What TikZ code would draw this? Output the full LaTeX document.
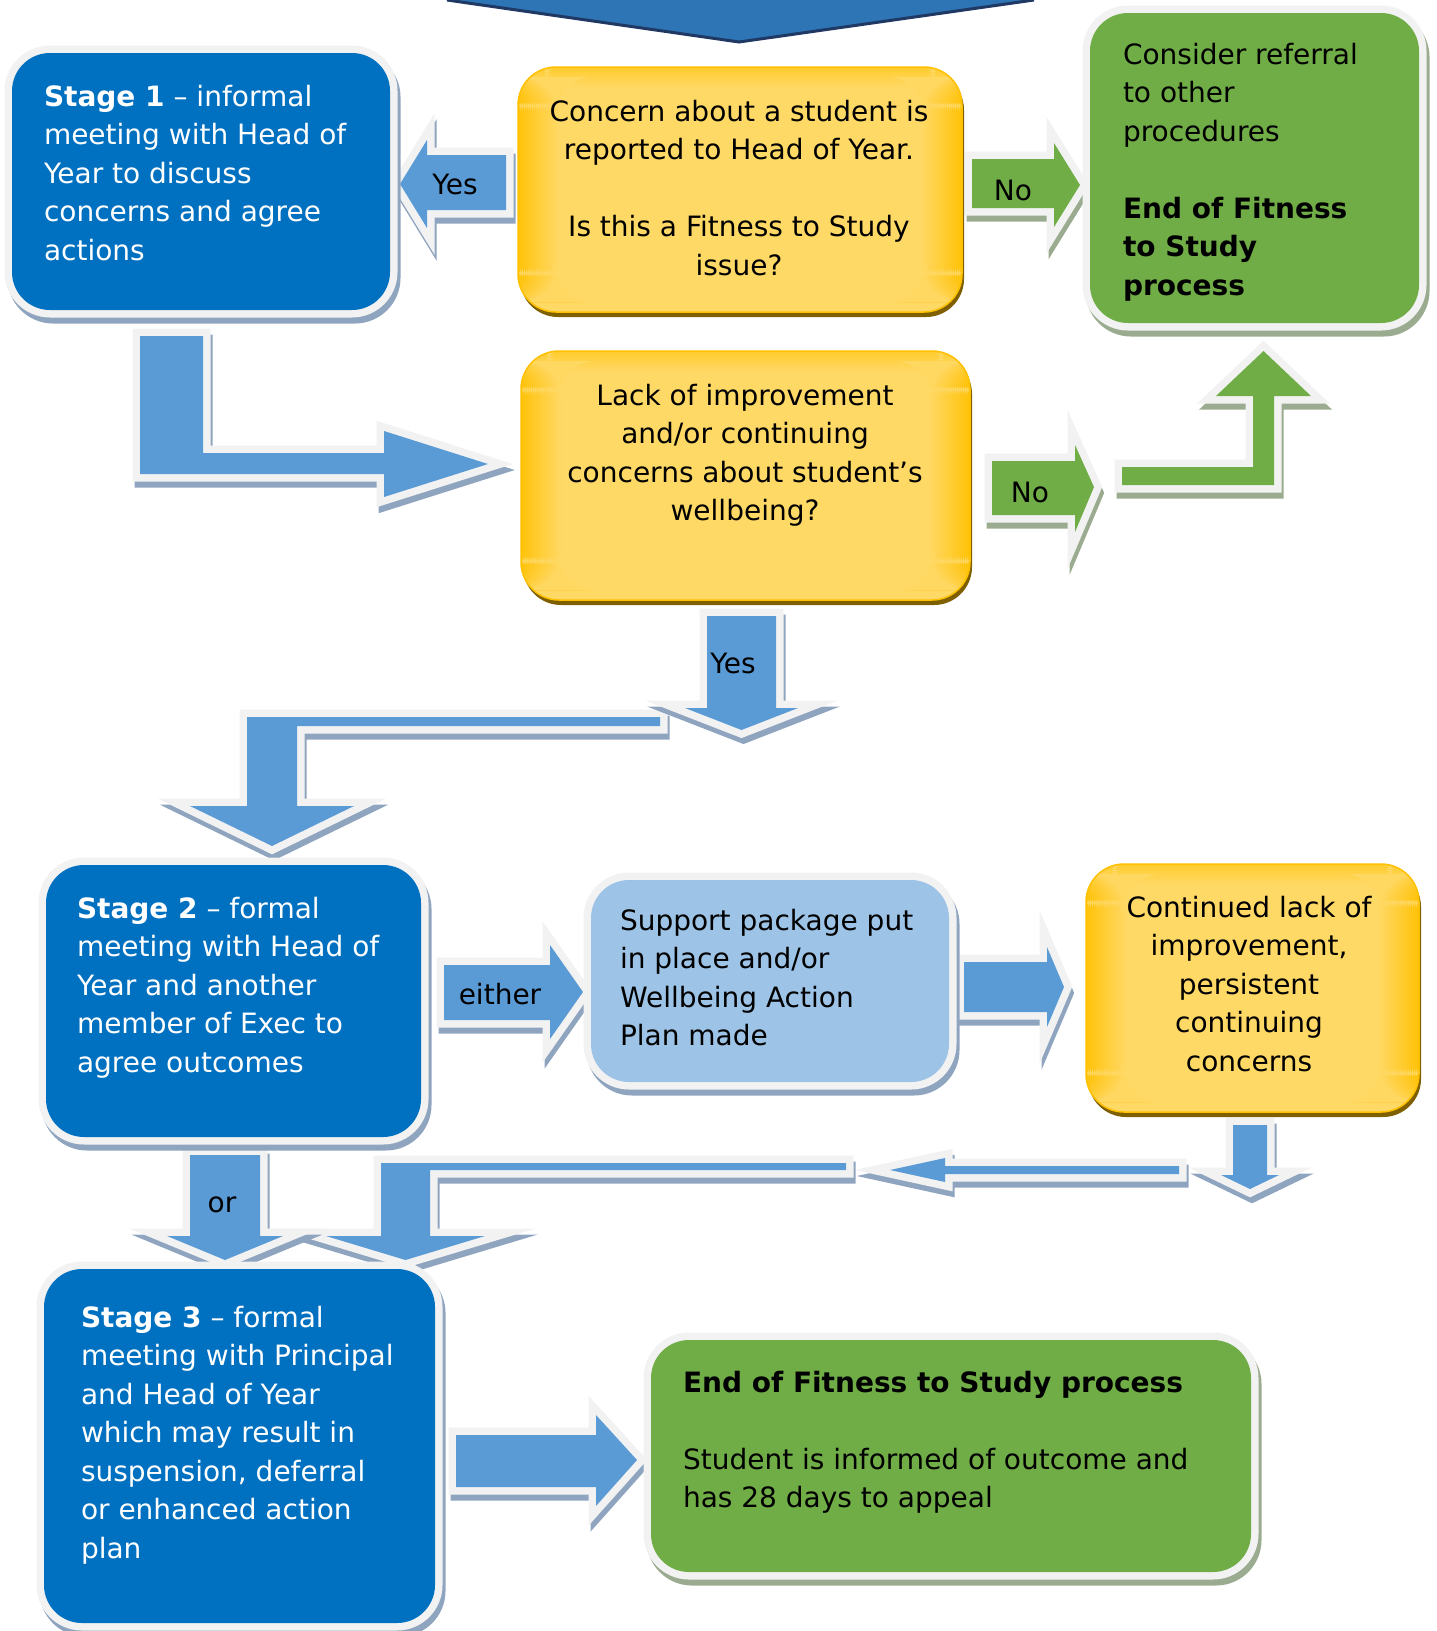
\documentclass[tikz,border=0pt]{standalone}
\usepackage{fontspec}
\setmainfont{DejaVu Sans}
\definecolor{stageblue}{HTML}{0070C0}
\definecolor{arrowblue}{HTML}{5B9BD5}
\definecolor{topblue}{HTML}{2E75B6}
\definecolor{topedge}{HTML}{1F3864}
\definecolor{glow}{HTML}{F2F2F2}
\definecolor{shblue}{HTML}{8FA5BF}
\definecolor{shgreen}{HTML}{9BAB8F}
\definecolor{grn}{HTML}{70AD47}
\definecolor{lightblue}{HTML}{9DC3E6}
\definecolor{yel}{HTML}{FFD966}
\definecolor{yelo}{HTML}{FFC000}
\definecolor{ybrown}{HTML}{7F6000}
\tikzset{
  boxbase/.style={rectangle, rounded corners=38pt, inner sep=0pt, outer sep=0pt},
  gbox/.style 2 args={boxbase, fill=#1,
    preaction={fill=#2, draw=#2, line width=15pt, transform canvas={shift={(3pt,-6pt)}}},
    preaction={fill=glow, draw=glow, line width=15pt}},
  ybox/.style={boxbase, fill=yel, draw=yelo, line width=1.5pt,
    preaction={fill=ybrown, transform canvas={shift={(2pt,-5pt)}}},
    path picture={
      \foreach \i in {0,...,9}{
        \pgfmathtruncatemacro\p{55*(1-\i/10)}
        \pgfmathsetmacro\a{2*\i}
        \pgfmathsetmacro\b{2*\i+2.4}
        \fill[yelo!\p!yel] ([yshift=-\a pt]path picture bounding box.north west) rectangle ([yshift=-\b pt]path picture bounding box.north east);
      }
      \foreach \i in {0,...,19}{
        \pgfmathtruncatemacro\p{90*(1-\i/20)}
        \pgfmathsetmacro\a{2*\i}
        \pgfmathsetmacro\b{2*\i+2.4}
        \fill[yelo!\p!yel] ([xshift=\a pt, yshift=-10pt]path picture bounding box.north west) rectangle ([xshift=\b pt, yshift=10pt]path picture bounding box.south west);
        \fill[yelo!\p!yel] ([xshift=-\a pt, yshift=-10pt]path picture bounding box.north east) rectangle ([xshift=-\b pt, yshift=10pt]path picture bounding box.south east);
      }
    }},
  arrowshape/.style 2 args={fill=#1,
    preaction={fill=#2, draw=#2, line width=15pt, transform canvas={shift={(2pt,-6pt)}}},
    preaction={fill=glow, draw=glow, line width=15pt}},
  barrow/.style={arrowshape={arrowblue}{shblue}},
  garrow/.style={arrowshape={grn}{shgreen}},
  txt/.style={inner sep=0pt, outer sep=0pt, font=\fontsize{28}{38.5}\selectfont, text=black},
  ltxt/.style={txt, anchor=north west, align=left},
  ctxt/.style={txt, anchor=north, align=center},
  lbl/.style={inner sep=0pt, font=\fontsize{28}{34}\selectfont, text=black, anchor=center}
}
\begin{document}
\begin{tikzpicture}[x=1pt,y=-1pt]
\useasboundingbox (0,0) rectangle (1437,1631);

% top chevron
\fill[topblue] (430,-3) -- (447,0) -- (739,42) -- (1034,0) -- (1050,-3) -- cycle;
\draw[topedge, line width=3pt] (447,0) -- (739,42) -- (1034,0);

% ---------- block arrows ----------
% Yes (left)
\path[barrow] (506,155) -- (427,155) -- (427,140) -- (400,184) -- (427,228) -- (427,210) -- (506,210) -- cycle;
% No (top right)
\path[garrow] (972,159) -- (1054,159) -- (1054,143) -- (1080,185) -- (1054,227) -- (1054,208) -- (972,208) -- cycle;
% L: stage 1 -> lack
\path[barrow] (140,336) -- (203,336) -- (203,453) -- (384,453) -- (384,431) -- (488,464) -- (384,497) -- (384,474) -- (140,474) -- cycle;
% No (lack -> right)
\path[garrow] (992,461) -- (1075,461) -- (1075,445) -- (1094,487) -- (1075,532) -- (1075,515) -- (992,515) -- cycle;
% green L up
\path[garrow] (1122,467) -- (1253,467) -- (1253,396) -- (1216,396) -- (1263.5,351) -- (1311,396) -- (1274,396) -- (1274,485) -- (1122,485) -- cycle;
% L to stage 2 (behind the Yes down arrow)
\path[barrow] (660,717) -- (247,717) -- (247,806) -- (190,806) -- (272,846) -- (354,806) -- (297,806) -- (297,726) -- (660,726) -- cycle;
% Yes down
\path[barrow] (707,616) -- (776,616) -- (776,708) -- (798,708) -- (741.5,730) -- (685,708) -- (707,708) -- cycle;
% either
\path[barrow] (444,965) -- (550,965) -- (550,945) -- (583,992) -- (550,1039) -- (550,1020) -- (444,1020) -- cycle;
% support -> continued
\path[barrow] (964,962) -- (1047,962) -- (1047,947) -- (1064,987) -- (1047,1027) -- (1047,1012) -- (964,1012) -- cycle;
% continued down
\path[barrow] (1233,1125) -- (1267,1125) -- (1267,1175) -- (1279,1175) -- (1250,1189) -- (1221,1175) -- (1233,1175) -- cycle;
% return left
\path[barrow] (1179,1166) -- (945,1166) -- (945,1158) -- (890,1170) -- (945,1182) -- (945,1174) -- (1179,1174) -- cycle;
% L from return to stage 3
\path[barrow] (846,1163) -- (381,1163) -- (381,1236) -- (326,1236) -- (405.5,1260) -- (485,1236) -- (430,1236) -- (430,1170) -- (846,1170) -- cycle;
% or
\path[barrow] (190,1155) -- (260,1155) -- (260,1236) -- (283,1236) -- (225,1260) -- (167,1236) -- (190,1236) -- cycle;
% stage 3 -> end
\path[barrow] (456,1435) -- (596,1435) -- (596,1415) -- (637,1460) -- (596,1506) -- (596,1487) -- (456,1487) -- cycle;

% ---------- boxes ----------
\node[gbox={stageblue}{shblue}, minimum width=378pt, minimum height=257pt] (s1) at (201,181.5) {};
\node[ybox, minimum width=444pt, minimum height=245pt] (concern) at (740,189.5) {};
\node[gbox={grn}{shgreen}, minimum width=329pt, minimum height=310pt] (referral) at (1254.5,168) {};
\node[ybox, minimum width=449pt, minimum height=249pt] (lack) at (745.5,475.5) {};
\node[gbox={stageblue}{shblue}, minimum width=375pt, minimum height=272pt] (s2) at (233.5,1001) {};
\node[gbox={lightblue}{shblue}, minimum width=358pt, minimum height=202pt] (support) at (770,981) {};
\node[ybox, minimum width=333pt, minimum height=248pt] (cont) at (1252.5,988) {};
\node[gbox={stageblue}{shblue}, minimum width=391pt, minimum height=354pt] (s3) at (239.5,1446) {};
\node[gbox={grn}{shgreen}, minimum width=600pt, minimum height=232pt] (endbox) at (951,1456) {};

% ---------- texts ----------
\node[ltxt, text=white] (s1t) at (44,79.05) {\strut\textbf{Stage 1} – informal\\meeting with Head of\\Year to discuss\\concerns and agree\\actions};
\node[ctxt] (concernt) at (739,94.05) {\strut Concern about a student is\\reported to Head of Year.\\\mbox{}\\Is this a Fitness to Study\\issue?};
\node[ltxt] (referralt) at (1123,37.05) {\strut Consider referral\\to other\\procedures\\\mbox{}\\\textbf{End of Fitness}\\\textbf{to Study}\\\textbf{process}};
\node[ctxt] (lackt) at (745,378.05) {\strut Lack of improvement\\and/or continuing\\concerns about student’s\\wellbeing?};
\node[ltxt, text=white] (s2t) at (77,891.05) {\strut\textbf{Stage 2} – formal\\meeting with Head of\\Year and another\\member of Exec to\\agree outcomes};
\node[ltxt] (supportt) at (620,903.05) {\strut Support package put\\in place and/or\\Wellbeing Action\\Plan made};
\node[ctxt] (contt) at (1249,890.05) {\strut Continued lack of\\improvement,\\persistent\\continuing\\concerns};
\node[ltxt, text=white] (s3t) at (81,1300.05) {\strut\textbf{Stage 3} – formal\\meeting with Principal\\and Head of Year\\which may result in\\suspension, deferral\\or enhanced action\\plan};
\node[ltxt] (endt) at (683,1365.05) {\strut\textbf{End of Fitness to Study process}\\\mbox{}\\Student is informed of outcome and\\has 28 days to appeal};

% ---------- arrow labels ----------
\node[lbl] (lyes1) at (455,184) {Yes};
\node[lbl] (lno1) at (1013,190) {No};
\node[lbl] (lno2) at (1030,492) {No};
\node[lbl] (lyes2) at (733,663) {Yes};
\node[lbl] (leither) at (500,994) {either};
\node[lbl] (lor) at (222,1205) {or};
\end{tikzpicture}
\end{document}
